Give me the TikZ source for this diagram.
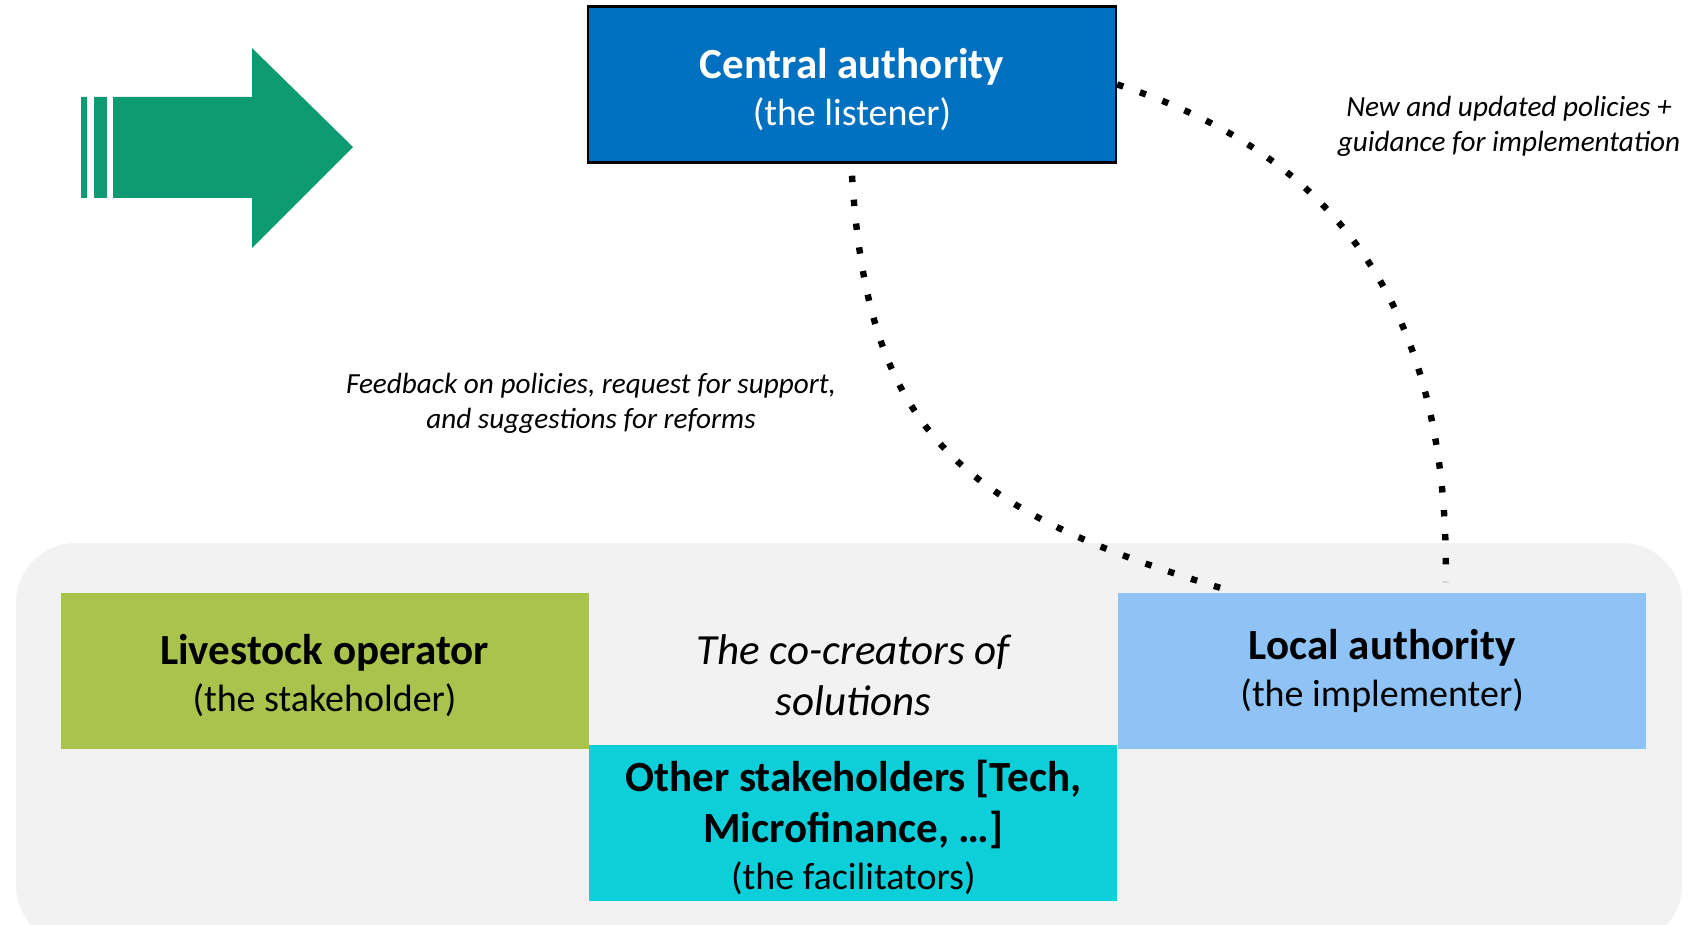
\documentclass[tikz,border=0pt]{standalone}
\usepackage{fontspec}
\setmainfont{Carlito}
\usetikzlibrary{positioning}

\definecolor{centralblue}{RGB}{0,112,192}
\definecolor{operatorgreen}{RGB}{169,195,76}
\definecolor{localblue}{RGB}{143,195,245}
\definecolor{facilcyan}{RGB}{13,207,218}
\definecolor{panelgrey}{RGB}{242,242,242}
\definecolor{arrowgreen}{RGB}{14,154,114}

% bold role name; the strut pushes the text block down a little
\newcommand{\rolename}[1]{{\fontsize{21.5}{24}\selectfont\bfseries #1}}
\newcommand{\boxstrut}{\rule{0pt}{20pt}}

\begin{document}
\begin{tikzpicture}[x=0.5pt, y=-0.5pt,
    every node/.style={font=\fontsize{19}{23.5}\selectfont},
    actor/.style={minimum width=264pt, minimum height=78pt, align=center, inner sep=0pt},
    note/.style={font=\fontsize{14.6}{17.5}\selectfont\itshape, align=center},
    dotline/.style={line width=3.2pt, dash pattern=on 3.2pt off 8.8pt}]
    \useasboundingbox (0,0) rectangle (1696,925);
    % Arrow
    \fill[arrowgreen] (81,97) rectangle (87,198) (94,97) rectangle (107,198);
    \fill[arrowgreen] (113,97) -- (252,97) -- (252,48) -- (353,147) -- (252,248) -- (252,198) -- (113,198) -- cycle;
    % Panel
    \fill[panelgrey, rounded corners=30pt] (16,543) rectangle (1682,945);
    % Central authority
    \node[actor, fill=centralblue, draw=black, line width=1.2pt, text=white] (central) at (852,84.5)
        {\boxstrut\rolename{Central authority}\\(the listener)};
    % Co-creators
    \node[actor, fill=operatorgreen] (operator) at (324.5,670.5)
        {\boxstrut\rolename{Livestock operator}\\(the stakeholder)};
    \node[actor, right=0pt of operator, font=\fontsize{21.5}{25.5}\selectfont\itshape] (cocreators)
        {\boxstrut The co-creators of\\solutions};
    \node[actor, fill=localblue, right=0pt of cocreators] (local)
        {\rolename{Local authority}\\(the implementer)};
    \node[actor, fill=facilcyan, below=-2pt of cocreators] (others)
        {\boxstrut\rolename{Other stakeholders [Tech,}\\[2pt]\rolename{Microfinance, …]}\\(the facilitators)};
    % Flows
    \draw[dotline] ([yshift=-6pt]central.south) .. controls (868,430) and (955,510) .. ([xshift=58.5pt]local.north west);
    \draw[dotline] (central.east) .. controls (1320,150) and (1450,290) .. ([xshift=164pt, yshift=5pt]local.north west);
    \node[note] (feedback) at (591,403) {Feedback on policies, request for support,\\and suggestions for reforms};
    \node[note] (guidance) at (1509,126) {New and updated policies +\\guidance for implementation};
\end{tikzpicture}
\end{document}
